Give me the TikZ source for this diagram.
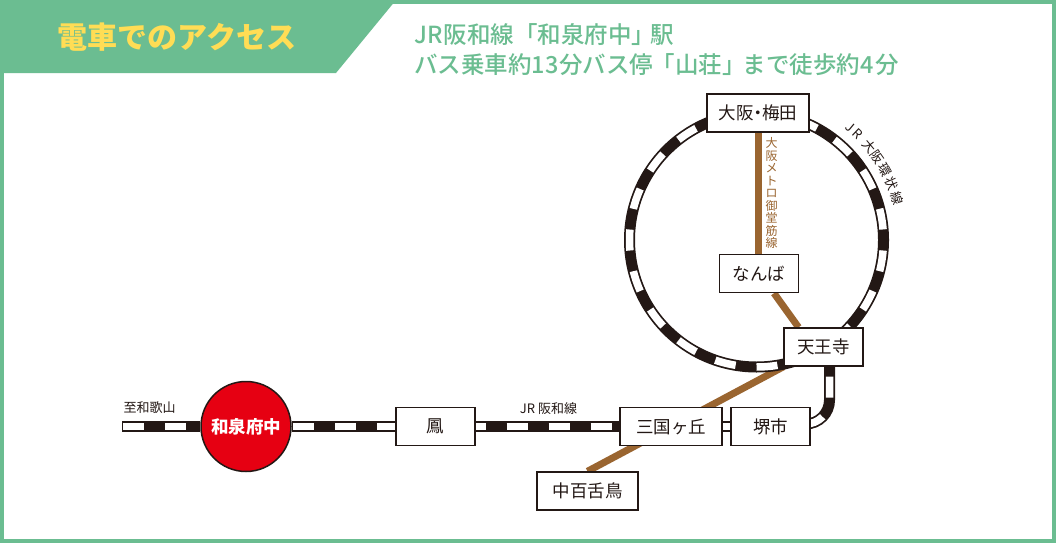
\documentclass[tikz,border=0pt]{standalone}
\usepackage{fontspec}
\usetikzlibrary{backgrounds}
\setmainfont{Noto Sans CJK JP}
\newfontfamily\medfont{Noto Sans CJK JP Medium}
\definecolor{ink}{HTML}{231815}
\definecolor{leaf}{HTML}{6BBD91}
\definecolor{lemon}{HTML}{FFDD55}
\definecolor{metro}{HTML}{9A6530}
\definecolor{signal}{HTML}{E60012}
\tikzset{
  railline/.style={line width=11pt,draw=ink,
    postaction={draw=white,line width=7.5pt,dash pattern=on 21pt off 21pt,dash phase=#1}},
  railline/.default=0,
  metroline/.style={line width=7pt,draw=metro},
  station/.style={draw=ink,line width=1.4pt,fill=white,minimum height=38pt,inner sep=0pt,
    font=\fontsize{17.5}{20}\selectfont,text=ink},
  smalltext/.style={font=\fontsize{13}{16}\selectfont,text=ink,inner sep=0pt},
  infotext/.style={font=\medfont\fontsize{23.5}{28}\selectfont,text=leaf,inner sep=0pt,anchor=west},
}
\begin{document}
\begin{tikzpicture}[x=1pt,y=-1pt]
  \useasboundingbox (0,0) rectangle (1056,543);
  \node[font=\fontsize{30}{34}\selectfont\bfseries,text=lemon,inner sep=0pt] (title) at (177,37) {電車でのアクセス};
  \node[infotext] (info1) at (414,35) {JR\kern1pt 阪和線「和泉府中」\kern-5pt 駅};
  \node[infotext] (info2) at (414,65) {バス乗車約13\kern1pt 分バス停\kern-2pt「山荘」\kern-3pt まで徒歩約\kern1pt 4\kern1pt 分};

  \coordinate (ringc) at (756.5,240);
  \coordinate (wakaend) at (122,426.5);
  \coordinate (sakaiin) at (810,424);
  \coordinate (bend) at (829.5,400);

  \node[station,minimum width=102pt] (umeda) at (758,113) {大阪\kern-4.5pt・\kern-4.5pt 梅田};
  \node[station,minimum width=79pt] (namba) at (759,273.5) {なんば};
  \node[station,minimum width=79pt] (tennoji) at (823.5,347) {天王寺};
  \node[station,minimum width=102pt] (mikuni) at (671,426.5) {三国ヶ丘};
  \node[station,minimum width=79pt] (sakai) at (770.5,426.5) {堺市};
  \node[station,minimum width=101pt] (mozu) at (587.5,491) {中百舌鳥};
  \node[station,minimum width=79pt] (otori) at (435.5,426.5) {鳳};
  \node[circle,draw=ink,line width=1.5pt,fill=signal,minimum size=90pt,inner sep=0pt,
    text=white,font=\fontsize{17.5}{20}\selectfont\bfseries] (izumi) at (246,426.5) {和泉府中};

  \node[smalltext] (wakalabel) at (149.5,408) {至和歌山};
  \node[smalltext] (hanwalabel) at (548.5,409) {JR 阪和線};
  \node[font=\fontsize{12}{12.5}\selectfont,text=metro,align=center,inner sep=0pt] (midolabel) at (771.5,193)
    {大\\阪\\メ\\ト\\ロ\\御\\堂\\筋\\線};
  \foreach \a/\ch in {50.5/J,46.5/R,39.8/大,34.6/阪,28.8/環,22.8/状,16.6/線}
    \node[smalltext,rotate=\a-90] (ringlabel\a) at ([shift={(-\a:146.5)}]ringc) {\ch};

  \begin{pgfonlayer}{background}
    \fill[white] (0,0) rectangle (1056,543);
    \draw[leaf,line width=4pt] (2,2) rectangle (1054,541);
    \fill[leaf] (0,0) -- (396,0) -- (336,73) -- (0,73) -- cycle;
    \draw[metroline] (umeda.south) -- (umeda.south |- namba.north);
    \draw[metroline] ([xshift=15pt]namba.south) -- ([xshift=-25pt]tennoji.north);
    \draw[metroline] (mozu.north) -- ([xshift=-40pt]tennoji.south);
    \draw[railline=31.5] (ringc) circle (127);
    \draw[railline=41] (wakaend) -- (izumi);
    \draw[railline=40.5] (izumi) -- (otori);
    \draw[railline=11] (otori) -- (mikuni);
    \draw[railline] (mikuni) -- (sakai);
    \draw[railline=32,rounded corners=24pt] (bend |- tennoji.south) |- (sakaiin);
  \end{pgfonlayer}
\end{tikzpicture}
\end{document}
